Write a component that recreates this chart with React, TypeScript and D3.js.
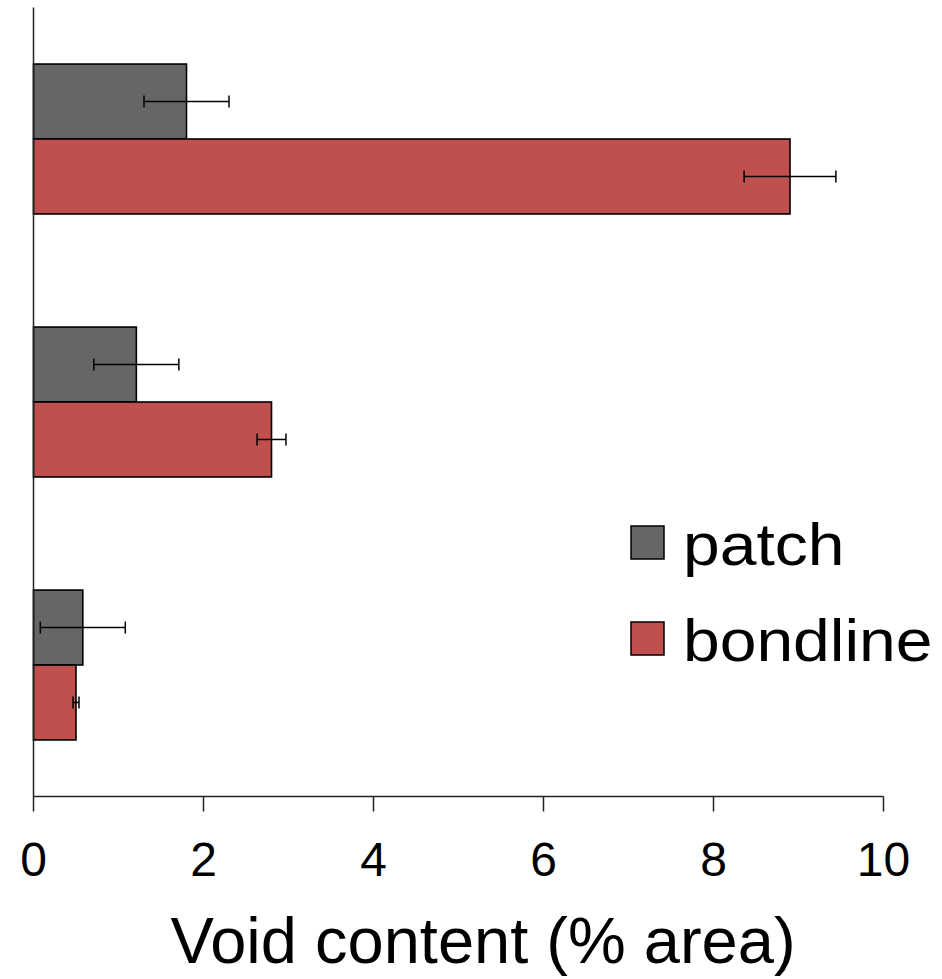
import React from 'react';
import * as d3 from 'd3';

// categories top to bottom (no labels shown on the chart)
const categories = ['group1', 'group2', 'group3'];
const seriesNames = ['patch', 'bondline'];
const seriesColors = ['#666666', '#c0504d'];

const patchValues = [1.8, 1.21, 0.58];
const patchErrors = [0.5, 0.5, 0.5];
const bondlineValues = [8.9, 2.8, 0.5];
const bondlineErrors = [0.54, 0.17, 0.035];

const xTicks = [0, 2, 4, 6, 8, 10];
const xTitle = 'Void content (% area)';

export default function App() {
  const width = 942;
  const height = 979;
  const left = 33.5;
  const right = 883.5;
  const top = 7.5;
  const bottom = 796.5;

  const x = d3.scaleLinear().domain([0, 10]).range([left, right]);
  const y = d3.scaleBand<string>()
    .domain(categories)
    .range([top, bottom])
    .paddingInner(0.43)
    .paddingOuter(0.215);
  const inner = d3.scaleBand<string>()
    .domain(seriesNames)
    .range([0, y.bandwidth()]);

  const series = [
    { name: 'patch', values: patchValues, errors: patchErrors, color: seriesColors[0] },
    { name: 'bondline', values: bondlineValues, errors: bondlineErrors, color: seriesColors[1] },
  ];

  const font = 'Liberation Sans, Arial, sans-serif';

  return (
    <svg width={width} height={height} style={{ position: 'absolute', left: 0, top: 0, background: '#fff' }}>
      {series.map(s => (
        <g key={s.name}>
          {categories.map((c, i) => {
            const y0 = (y(c) ?? 0) + (inner(s.name) ?? 0);
            const h = inner.bandwidth();
            const v = s.values[i];
            const e = s.errors[i];
            const cy = y0 + h / 2;
            return (
              <g key={c}>
                <rect x={x(0)} y={y0} width={x(v) - x(0)} height={h}
                  fill={s.color} stroke="#000" strokeWidth={1.6} />
                <line x1={x(v - e)} x2={x(v + e)} y1={cy} y2={cy} stroke="#000" strokeWidth={1.5} />
                <line x1={x(v - e)} x2={x(v - e)} y1={cy - 6} y2={cy + 6} stroke="#000" strokeWidth={1.5} />
                <line x1={x(v + e)} x2={x(v + e)} y1={cy - 6} y2={cy + 6} stroke="#000" strokeWidth={1.5} />
              </g>
            );
          })}
        </g>
      ))}

      {/* axes */}
      <line x1={left} x2={left} y1={top} y2={bottom} stroke="#222" strokeWidth={1.5} />
      <line x1={left} x2={right} y1={bottom} y2={bottom} stroke="#222" strokeWidth={1.5} />
      {xTicks.map(t => (
        <g key={t}>
          <line x1={x(t)} x2={x(t)} y1={bottom} y2={bottom + 15} stroke="#222" strokeWidth={1.5} />
          <text x={x(t)} y={876} textAnchor="middle" fontFamily={font} fontSize={48} fill="#000">{t}</text>
        </g>
      ))}
      <text x={483} y={963} textAnchor="middle" fontFamily={font} fontSize={65} fill="#000">{xTitle}</text>

      {/* legend */}
      {series.map((s, i) => (
        <g key={s.name} transform={`translate(631, ${526 + i * 96})`}>
          <rect x={0} y={0} width={33} height={33} fill={s.color} stroke="#000" strokeWidth={1.5} />
          <text x={52} y={39} fontFamily={font} fontSize={60} fill="#000"
            transform="translate(52, 0) scale(1.1, 1) translate(-52, 0)">{s.name}</text>
        </g>
      ))}
    </svg>
  );
}
